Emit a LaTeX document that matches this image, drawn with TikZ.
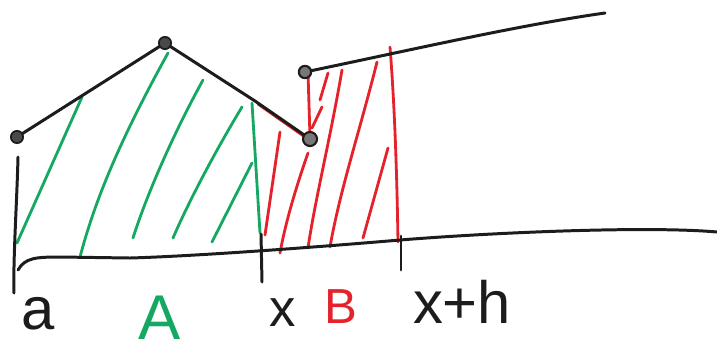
\documentclass[tikz,border=0pt]{standalone}
\usepackage{fontspec}
\setmainfont{Liberation Sans}
\usepackage{tikz}
\usetikzlibrary{positioning}
\definecolor{SketchInk}{HTML}{1C1C1C}
\definecolor{SketchGreen}{HTML}{14A862}
\definecolor{SketchRed}{HTML}{E5222B}
\tikzset{
  inkline/.style={draw=SketchInk, line width=1.7pt, line cap=round, line join=round},
  greenhatch/.style={draw=SketchGreen, line width=1.6pt, line cap=round},
  redhatch/.style={draw=SketchRed, line width=1.6pt, line cap=round},
  closedpt/.style={circle, draw=SketchInk, fill=SketchInk!80, line width=1pt, inner sep=0pt, minimum size=7pt},
  openpt/.style={circle, draw=SketchInk, fill=SketchInk!60, line width=1.2pt, inner sep=0pt, minimum size=8pt},
  sketchlabel/.style={inner sep=0pt, text=SketchInk}
}
\begin{document}
\begin{tikzpicture}[x=0.02cm, y=-0.02cm]
  \useasboundingbox (0,0) rectangle (717,356);
  \coordinate (p1) at (17,137);
  \coordinate (p2) at (165,43);
  \coordinate (kink) at (255,101);
  \coordinate (p3) at (310,139);
  \coordinate (p4) at (305,72);
  \coordinate (tail) at (605,13);

  \draw[greenhatch] (82,97) -- (17,243);
  \draw[greenhatch] (168,53) .. controls (120,140) and (95,200) .. (80,257);
  \draw[greenhatch] (203,80) .. controls (170,140) and (145,200) .. (133,238);
  \draw[greenhatch] (242,107) .. controls (210,160) and (185,210) .. (173,238);
  \draw[greenhatch] (252,163) -- (212,242);
  \draw[greenhatch] (252,103) -- (260,233);

  \draw[redhatch] (258,104) -- (305,137);
  \draw[redhatch] (280,132) -- (265,235);
  \draw[redhatch] (308,73) -- (310,137);
  \draw[redhatch] (308,153) .. controls (295,190) and (285,225) .. (280,253);
  \draw[redhatch] (328,73) -- (320,100);
  \draw[redhatch] (322,107) -- (312,128);
  \draw[redhatch] (342,70) .. controls (330,140) and (315,200) .. (308,248);
  \draw[redhatch] (377,62) .. controls (360,130) and (340,190) .. (330,247);
  \draw[redhatch] (388,148) -- (363,238);
  \draw[redhatch] (390,47) .. controls (395,110) and (397,180) .. (398,242);

  \draw[inkline] (18,157) .. controls (17,200) and (13,260) .. (14,293);
  \draw[inkline] (18,270) .. controls (25,258) and (35,257) .. (60,257) -- (130,258)
    .. controls (200,256) and (330,246) .. (400,240)
    .. controls (500,232) and (650,226) .. (717,232);
  \draw[inkline] (261,234) -- (262,282);
  \draw[inkline] (401,236) -- (401,270);

  \draw[inkline] (p1) -- (p2) -- (kink) -- (p3);
  \draw[inkline] (p4) .. controls (420,48) and (520,25) .. (tail);

  \node[closedpt] (n1) at (p1) {};
  \node[closedpt] (n2) at (p2) {};
  \node[openpt] (n3) at (p3) {};
  \node[openpt, minimum size=7pt] (n4) at (p4) {};

  \node[sketchlabel, font=\fontsize{34}{36}\selectfont] (la) at (38,314) {a};
  \node[sketchlabel, text=SketchGreen, font=\fontsize{36}{38}\selectfont] (lA) at (160,318) {A};
  \node[sketchlabel, font=\fontsize{30}{32}\selectfont] (lx) at (283,313) {x};
  \node[sketchlabel, text=SketchRed, font=\fontsize{28}{30}\selectfont] (lB) at (341,307) {B};
  \node[sketchlabel, font=\fontsize{34}{36}\selectfont] (lxh) at (462,302) {x+h};
\end{tikzpicture}
\end{document}
